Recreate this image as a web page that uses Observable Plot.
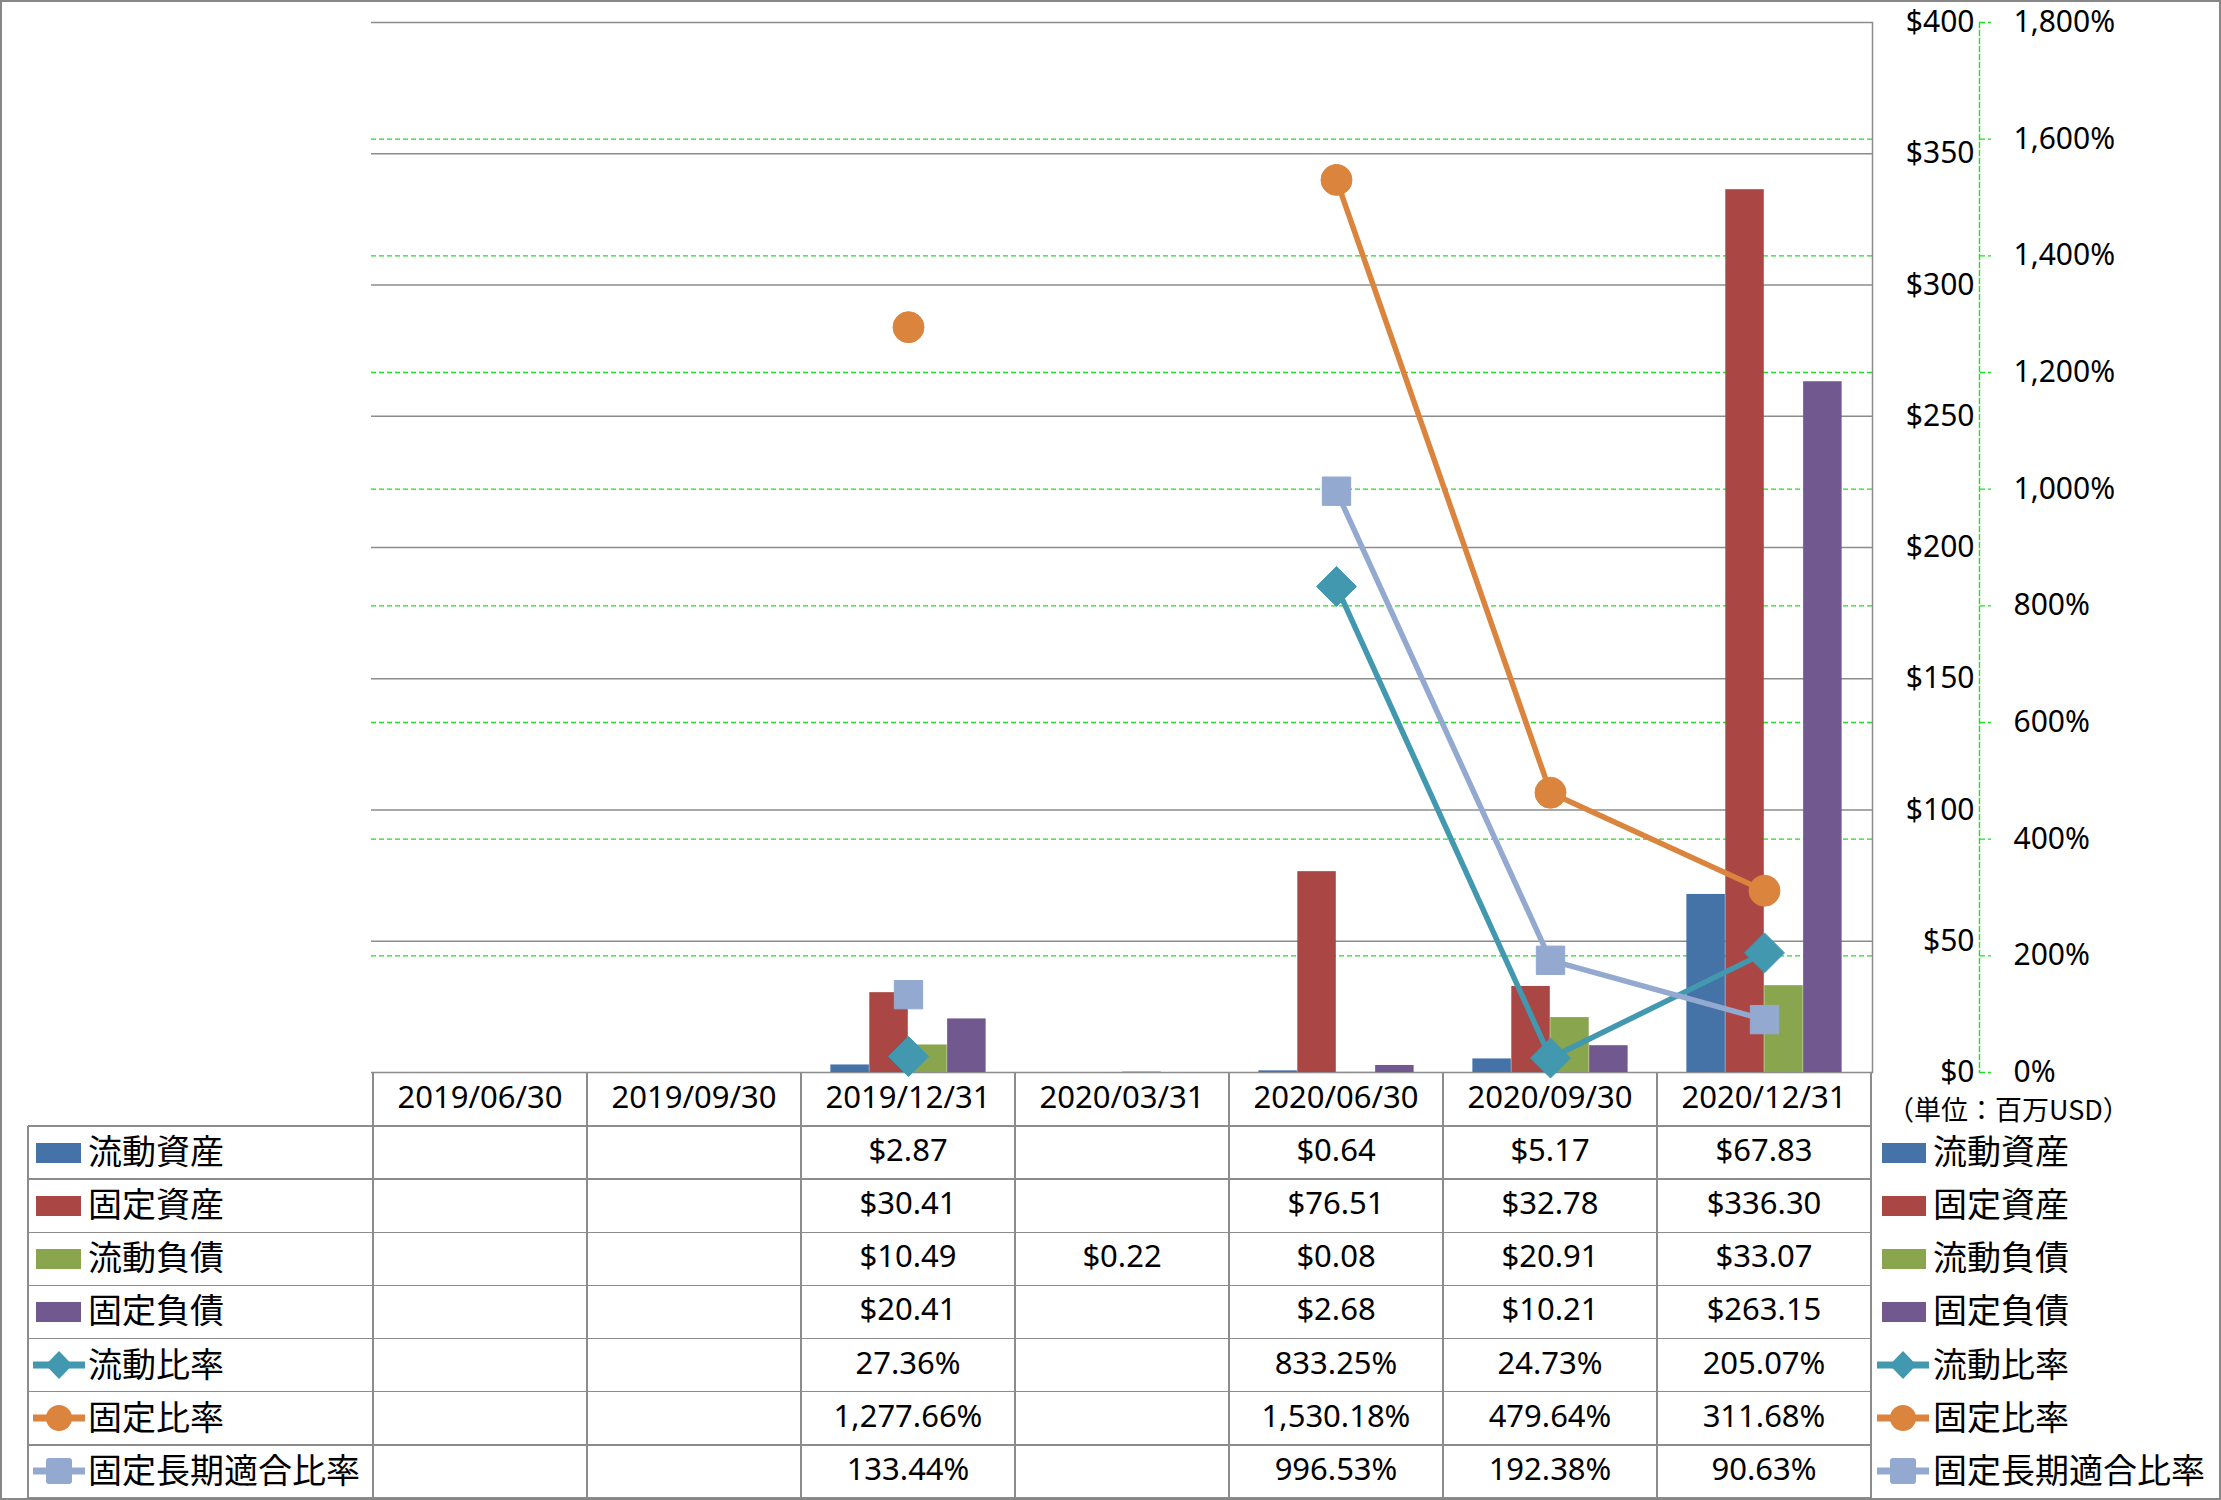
<!DOCTYPE html>
<html>
<head>
<meta charset="utf-8">
<script src="https://cdn.jsdelivr.net/npm/d3@7"></script>
<script src="https://cdn.jsdelivr.net/npm/@observablehq/plot@0.6"></script>
<style>
  html, body { margin: 0; padding: 0; background: #fff; overflow: hidden; }
  #wrap { position: relative; width: 2221px; height: 1500px; overflow: hidden; background: #fff;
          font-family: "Noto Sans", "Noto Sans CJK JP", sans-serif; color: #000; }
  #chart { position: absolute; left: 0; top: 0; }
  .ln { position: absolute; background: #8c8c8c; }
  .cell { position: absolute; text-align: center; white-space: nowrap; font-size: 31px; }
  .lab { position: absolute; white-space: nowrap; font-size: 34px; font-family: "Noto Sans CJK JP", sans-serif; }
  .sw { position: absolute; }
  #frame { position: absolute; left: 0; top: 0; width: 2221px; height: 1500px; box-sizing: border-box;
           border: 2px solid #878787; pointer-events: none; }
</style>
</head>
<body>
<div id="wrap"><div id="chart"></div><div id="frame"></div></div>
<script>
// ---------------- data ----------------
const dates = ["2019/06/30", "2019/09/30", "2019/12/31", "2020/03/31", "2020/06/30", "2020/09/30", "2020/12/31"];
const barSeries = ["流動資産", "固定資産", "流動負債", "固定負債"];
const lineSeries = ["流動比率", "固定比率", "固定長期適合比率"];
const currentAssets  = [null, null, 2.87,   null, 0.64,    5.17,   67.83];
const fixedAssets    = [null, null, 30.41,  null, 76.51,   32.78,  336.30];
const currentLiab    = [null, null, 10.49,  0.22, 0.08,    20.91,  33.07];
const fixedLiab      = [null, null, 20.41,  null, 2.68,    10.21,  263.15];
const currentRatio   = [null, null, 27.36,  null, 833.25,  24.73,  205.07];
const fixedRatio     = [null, null, 1277.66, null, 1530.18, 479.64, 311.68];
const fixedLongRatio = [null, null, 133.44, null, 996.53,  192.38, 90.63];
const moneyTicks = [0, 50, 100, 150, 200, 250, 300, 350, 400];
const pctTicks = [0, 200, 400, 600, 800, 1000, 1200, 1400, 1600, 1800];
const unitLabel = "（単位：百万USD）";

// ---------------- style ----------------
const barColors = ["#4572A7", "#AA4643", "#89A54E", "#71588F"];
const lineColors = ["#4198AF", "#DB843D", "#93A9CF"];
const symbols = ["diamond2", "circle", "square"];
const symR = [18, 15.5, 16];
const FONT = '"Noto Sans", "Noto Sans CJK JP", sans-serif';
const W = 2221, mL = 371, mR = 349, mT = 22, H = 1080, mB = 8;
const bw = (W - mL - mR) / dates.length;
const barW = bw * 0.1815;
const barOff = (bw - 4 * barW) / 2;

const k = 400 / 1800; // percent -> primary axis units
const barValues = [currentAssets, fixedAssets, currentLiab, fixedLiab];
const lineValues = [currentRatio, fixedRatio, fixedLongRatio];

const barData = barValues.map((vals, s) =>
  dates.map((d, i) => ({date: d, series: barSeries[s], value: vals[i]})).filter(r => r.value != null));
const lineData = lineValues.map((vals, s) =>
  dates.map((d, i) => ({date: d, series: lineSeries[s], v: vals[i] == null ? NaN : vals[i] * k})));

const fmtMoney = v => "$" + v.toFixed(2);
const fmtPct = v => d3.format(",.2f")(v) + "%";

const marks = [
  Plot.ruleY(moneyTicks, {stroke: "#8c8c8c", strokeWidth: 1.5}),
  Plot.ruleY(pctTicks.filter(p => p > 0 && p < 1800).map(p => p * k),
    {stroke: "#1fe01f", strokeWidth: 1.4, strokeDasharray: "5,3"}),
  Plot.frame({anchor: "right", stroke: "#8c8c8c", strokeWidth: 1.5}),
  Plot.frame({anchor: "right", dx: 107, stroke: "#1fe01f", strokeWidth: 1.4, strokeDasharray: "5,3"}),
  Plot.axisY(moneyTicks, {anchor: "right", tickSize: 0, tickPadding: 102, textAnchor: "end",
    tickFormat: d => "$" + d, fontSize: 30, fill: "#000"}),
  Plot.axisY(pctTicks.map(p => p * k), {anchor: "right", tickSize: 11, tickPadding: 23, dx: 107,
    stroke: "#1fe01f", strokeWidth: 1.4, strokeDasharray: "5,3", fill: "#000", fontSize: 30,
    tickFormat: v => d3.format(",")(Math.round(v / k)) + "%"}),
  ...barData.map((data, s) => Plot.barY(data, {
    x: "date", y: "value", fill: barColors[s],
    insetLeft: barOff + s * barW, insetRight: bw - barOff - (s + 1) * barW
  })),
  ...lineData.map((data, s) => Plot.line(data, {
    x: "date", y: "v", stroke: lineColors[s], strokeWidth: 5.5, curve: "linear"
  })),
  ...lineData.map((data, s) => Plot.dot(data.filter(d => !isNaN(d.v)), {
    x: "date", y: "v", fill: lineColors[s], stroke: lineColors[s], strokeWidth: 1,
    r: symR[s], symbol: symbols[s]
  }))
];

const plot = Plot.plot({
  width: W, height: H,
  marginTop: mT, marginBottom: mB, marginLeft: mL, marginRight: mR,
  x: {domain: dates, padding: 0, axis: null},
  y: {domain: [0, 400], axis: null},
  style: {fontFamily: FONT, fontSize: "30px", color: "#000", background: "transparent", overflow: "visible"},
  marks
});
const wrap = document.getElementById("wrap");
document.getElementById("chart").appendChild(plot);

// ---------------- data table ----------------
const xs = plot.scale("x");
const ys = plot.scale("y");
const colW = xs.bandwidth;
const tableTop = ys.apply(0);
const tableBottom = 1498;
const headH = 54;
const rowH = (tableBottom - tableTop - headH) / 7;
const legLeft = 28;
const tableRight = xs.apply(dates[dates.length - 1]) + colW;
const frameEl = document.getElementById("frame");
const textShift = -3;

function add(html) {
  const t = document.createElement("div");
  t.innerHTML = html;
  const el = t.firstElementChild;
  wrap.insertBefore(el, frameEl);
  return el;
}
const LW = 1.5;
function hline(x1, x2, y) { add(`<div class="ln" style="left:${x1}px;top:${y - LW / 2}px;width:${x2 - x1}px;height:${LW}px"></div>`); }
function vline(x, y1, y2) { add(`<div class="ln" style="left:${x - LW / 2}px;top:${y1}px;width:${LW}px;height:${y2 - y1}px"></div>`); }

// grid lines
for (let r = 0; r <= 7; r++) hline(legLeft, tableRight, tableTop + headH + r * rowH);
vline(legLeft, tableTop + headH, tableBottom);
dates.forEach((d, i) => vline(xs.apply(d), tableTop, tableBottom));
vline(tableRight, tableTop, tableBottom);

// header
dates.forEach(d => {
  add(`<div class="cell" style="left:${xs.apply(d)}px;top:${tableTop + textShift}px;width:${colW}px;height:${headH}px;line-height:${headH}px">${d}</div>`);
});

const rows = [
  ...barSeries.map((name, s) => ({name, kind: "bar", color: barColors[s], values: barValues[s], fmt: fmtMoney})),
  ...lineSeries.map((name, s) => ({name, kind: "line", sym: symbols[s], color: lineColors[s], values: lineValues[s], fmt: fmtPct}))
];

function swatchSVG(row, w) {
  if (row.kind === "bar") {
    return `<svg width="${w}" height="40"><rect x="0" y="10" width="${w}" height="20" fill="${row.color}"/></svg>`;
  }
  const c = w / 2;
  let m;
  if (row.sym === "diamond2") m = `<polygon points="${c},6 ${c + 13.5},20 ${c},34 ${c - 13.5},20" fill="${row.color}"/>`;
  else if (row.sym === "circle") m = `<circle cx="${c}" cy="20" r="13" fill="${row.color}"/>`;
  else m = `<rect x="${c - 13}" y="7" width="26" height="26" rx="3" fill="${row.color}"/>`;
  return `<svg width="${w}" height="40"><line x1="0" y1="20" x2="${w}" y2="20" stroke="${row.color}" stroke-width="7" stroke-linecap="round"/>${m}</svg>`;
}

rows.forEach((row, r) => {
  const top = tableTop + headH + r * rowH;
  const cy = top + rowH / 2;
  // left legend
  const sx = row.kind === "bar" ? 36 : 33;
  const sw = row.kind === "bar" ? 45 : 52;
  add(`<div class="sw" style="left:${sx}px;top:${cy - 20}px;width:${sw}px;height:40px">${swatchSVG(row, sw)}</div>`);
  add(`<div class="lab" style="left:88px;top:${top + textShift}px;height:${rowH}px;line-height:${rowH}px">${row.name}</div>`);
  // right legend
  const rx = row.kind === "bar" ? 1882 : 1877;
  const rw = row.kind === "bar" ? 44 : 52;
  add(`<div class="sw" style="left:${rx}px;top:${cy - 20}px;width:${rw}px;height:40px">${swatchSVG(row, rw)}</div>`);
  add(`<div class="lab" style="left:1933px;top:${top + textShift}px;height:${rowH}px;line-height:${rowH}px">${row.name}</div>`);
  // values
  dates.forEach((d, i) => {
    const v = row.values[i];
    if (v == null) return;
    add(`<div class="cell" style="left:${xs.apply(d)}px;top:${top + textShift}px;width:${colW}px;height:${rowH}px;line-height:${rowH}px">${row.fmt(v)}</div>`);
  });
});

// unit label
add(`<div class="lab" style="left:1887px;top:${tableTop + 17}px;font-size:27px;line-height:40px">${unitLabel}</div>`);
</script>
</body>
</html>
